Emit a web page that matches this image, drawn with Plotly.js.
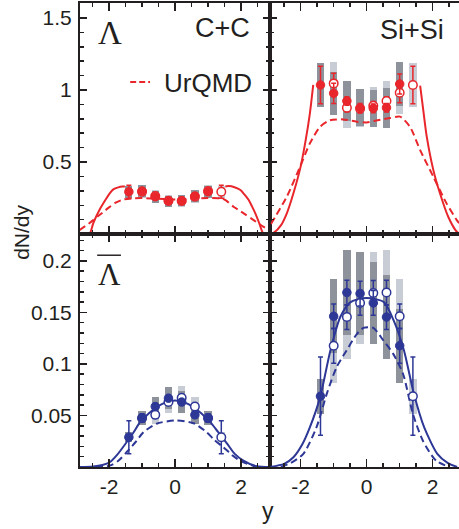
<!DOCTYPE html>
<html><head><meta charset="utf-8">
<script src="https://cdn.plot.ly/plotly-3.0.1.min.js"></script>
<style>html,body{margin:0;padding:0;background:#fff}</style>
</head><body>
<div id="chart" style="width:459px;height:529px"></div>
<script>
// ---------- data ----------
const rapFilled = [-1.4, -1.0, -0.6, -0.2, 0.2, 0.6, 1.0];
const rapOpen   = [-1.0, -0.6, -0.2, 0.2, 0.6, 1.0, 1.4];

// Lambda, C+C
const ccLamFilled = [0.294, 0.299, 0.259, 0.229, 0.231, 0.264, 0.294];
const ccLamOpen   = [0.294, 0.264, 0.231, 0.229, 0.259, 0.299, 0.294];
const ccLamStatF  = [0.045, 0.012, 0.010, 0.010, 0.010, 0.010, 0.012];
const ccLamStatO  = [0.012, 0.010, 0.010, 0.010, 0.010, 0.012, 0.045];
const ccLamSysF   = [0.042, 0.042, 0.040, 0.038, 0.038, 0.040, 0.042];
const ccLamSysO   = [0.042, 0.040, 0.038, 0.038, 0.040, 0.042, 0.042];
const ccLamFitX = [-2.66,-2.58,-2.48,-2.28,-2.08,-1.98,-1.87,-1.72,-1.60,-1.52,null,1.52,1.62,1.80,1.98,2.10,2.23,2.33,2.43,2.55,2.64,2.68];
const ccLamFitY = [0,0.005,0.074,0.172,0.248,0.283,0.310,0.324,0.330,0.331,null,0.331,0.333,0.325,0.306,0.275,0.236,0.192,0.144,0.075,0.016,0];
const ccLamUrqX = [-2.9,-2.6,-2.3,-2.0,-1.8,-1.6,-1.3,-1.0,-0.5,0,0.5,1.0,1.3,1.42,1.55,1.77,2.08,2.38,2.68,2.9];
const ccLamUrqY = [0.027,0.075,0.13,0.185,0.218,0.238,0.248,0.250,0.245,0.240,0.245,0.250,0.249,0.248,0.232,0.190,0.144,0.097,0.050,0.025];

// Lambda, Si+Si
const siLamFilled = [1.035, 0.977, 0.924, 0.877, 0.873, 0.877, 1.042];
const siLamOpen   = [1.046, 0.877, 0.870, 0.890, 0.924, 0.981, 1.035];
const siLamStatF  = [0.13, 0.07, 0.03, 0.03, 0.03, 0.03, 0.07];
const siLamStatO  = [0.07, 0.03, 0.03, 0.03, 0.03, 0.07, 0.13];
const siLamSysF   = [0.15, 0.15, 0.14, 0.13, 0.13, 0.14, 0.15];
const siLamSysO   = [0.15, 0.14, 0.13, 0.13, 0.14, 0.15, 0.15];
const siLamFitX = [-2.93,-2.80,-2.60,-2.42,-2.22,-2.00,-1.85,-1.72,-1.62,null,1.62,1.72,1.82,2.02,2.22,2.47,2.73,2.80];
const siLamFitY = [0,0.012,0.060,0.144,0.283,0.470,0.650,0.840,1.035,null,1.030,0.850,0.676,0.444,0.283,0.120,0.016,0.005];
const siLamUrqX = [-2.9,-2.42,-2.02,-1.72,-1.41,-1.11,-0.71,-0.3,0,0.33,0.7,1.01,1.31,1.62,2.02,2.42,2.73,2.8];
const siLamUrqY = [0.070,0.260,0.467,0.630,0.745,0.790,0.796,0.780,0.775,0.790,0.805,0.815,0.745,0.583,0.398,0.213,0.097,0.075];

// anti-Lambda, C+C
const ccAlaFilled = [0.0289, 0.0474, 0.0587, 0.0668, 0.0630, 0.0506, 0.0474];
const ccAlaOpen   = [0.0474, 0.0506, 0.0630, 0.0672, 0.0587, 0.0474, 0.0289];
const ccAlaStatF  = [0.016, 0.004, 0.003, 0.003, 0.003, 0.003, 0.004];
const ccAlaStatO  = [0.004, 0.003, 0.003, 0.003, 0.003, 0.004, 0.016];
const ccAlaSysF   = [0.005, 0.007, 0.009, 0.011, 0.011, 0.009, 0.007];
const ccAlaSysO   = [0.007, 0.009, 0.011, 0.011, 0.009, 0.007, 0.005];
const ccAlaFitX = [-2.9,-2.48,-2.2,-1.98,-1.75,-1.47,-1.25,-1.06,-0.8,-0.56,-0.3,0,0.3,0.56,0.8,1.07,1.3,1.57,1.8,2.07,2.47,2.9];
const ccAlaFitY = [0,0.0005,0.002,0.0046,0.012,0.024,0.034,0.0435,0.052,0.058,0.0625,0.0646,0.0625,0.058,0.052,0.0435,0.034,0.023,0.013,0.0062,0.0007,0];
const ccAlaUrqX = [-2.4,-1.98,-1.72,-1.47,-1.2,-0.96,-0.56,0,0.56,0.96,1.2,1.47,1.75,1.98,2.38,2.6];
const ccAlaUrqY = [0,0.0013,0.006,0.0143,0.024,0.0337,0.042,0.0451,0.0425,0.0337,0.026,0.019,0.011,0.006,0.001,0];

// anti-Lambda, Si+Si
const siAlaFilled = [0.0687, 0.1462, 0.1693, 0.1683, 0.1592, 0.1455, 0.1177];
const siAlaOpen   = [0.1177, 0.1455, 0.1592, 0.1689, 0.1693, 0.1462, 0.0687];
const siAlaStatF  = [0.038, 0.012, 0.012, 0.012, 0.012, 0.012, 0.017];
const siAlaStatO  = [0.017, 0.012, 0.012, 0.012, 0.012, 0.012, 0.038];
const siAlaSysF   = [0.017, 0.036, 0.041, 0.040, 0.040, 0.041, 0.036];
const siAlaSysO   = [0.036, 0.041, 0.040, 0.040, 0.041, 0.036, 0.017];
const siAlaFitX = [-2.93,-2.5,-2.22,-1.95,-1.72,-1.41,-1.1,-0.8,-0.49,0,0.52,0.82,1.13,1.43,1.74,2.14,2.45,2.74];
const siAlaFitY = [0,0.003,0.0094,0.022,0.0386,0.0678,0.113,0.1455,0.160,0.164,0.160,0.142,0.113,0.071,0.0386,0.0127,0.004,0];
const siAlaUrqX = [-2.6,-2.3,-1.92,-1.52,-1.21,-0.91,-0.61,-0.3,-0.1,0.2,0.5,0.8,1.1,1.4,1.7,2.1,2.5];
const siAlaUrqY = [0,0.004,0.0127,0.0386,0.071,0.097,0.113,0.129,0.135,0.135,0.123,0.110,0.0905,0.0516,0.0257,0.0062,0];

const yTopTicks = [0.5, 1, 1.5];
const yBotTicks = [0.05, 0.1, 0.15, 0.2];
const xTicks = [-2, 0, 2];

// ---------- styles ----------
const RED = '#e8262b', BLUE = '#2d3796';
const DARK = '#8d929b', LIGHT = '#c8ccd5';
const INK = '#231f20';
const BOXW = 0.22;

const traces = [];
function panel(ax, ay, color, filled, open, statF, statO, sysF, sysO, fitX, fitY, urqX, urqY) {
  const box = (xs, vals, s, c) => ({
    type: 'bar', x: xs, y: s.map(v => 2 * v), base: vals.map((v, i) => v - s[i]),
    width: BOXW, marker: {color: c, line: {width: 0}}, xaxis: ax, yaxis: ay,
    showlegend: false, hoverinfo: 'skip'
  });
  traces.push(box(rapOpen, open, sysO, LIGHT));
  traces.push(box(rapFilled, filled, sysF, DARK));
  traces.push({type: 'scatter', mode: 'lines', x: urqX, y: urqY, xaxis: ax, yaxis: ay,
    line: {color: color, width: 2, dash: '7px,4px', shape: 'spline', smoothing: 0.7}, showlegend: false});
  traces.push({type: 'scatter', mode: 'lines', x: fitX, y: fitY, xaxis: ax, yaxis: ay, connectgaps: false,
    line: {color: color, width: 2, shape: 'spline', smoothing: 0.7}, showlegend: false});
  traces.push({type: 'scatter', mode: 'markers', x: rapOpen, y: open, xaxis: ax, yaxis: ay,
    marker: {symbol: 'circle', size: 8.5, color: '#fff', line: {color: color, width: 1.5}},
    error_y: {type: 'data', array: statO, color: color, thickness: 1.5, width: 2.5}, showlegend: false});
  traces.push({type: 'scatter', mode: 'markers', x: rapFilled, y: filled, xaxis: ax, yaxis: ay,
    marker: {symbol: 'circle', size: 8.5, color: color, line: {color: color, width: 1}},
    error_y: {type: 'data', array: statF, color: color, thickness: 1.5, width: 2.5}, showlegend: false});
}
panel('x', 'y', RED, ccLamFilled, ccLamOpen, ccLamStatF, ccLamStatO, ccLamSysF, ccLamSysO, ccLamFitX, ccLamFitY, ccLamUrqX, ccLamUrqY);
panel('x2', 'y2', RED, siLamFilled, siLamOpen, siLamStatF, siLamStatO, siLamSysF, siLamSysO, siLamFitX, siLamFitY, siLamUrqX, siLamUrqY);
panel('x3', 'y3', BLUE, ccAlaFilled, ccAlaOpen, ccAlaStatF, ccAlaStatO, ccAlaSysF, ccAlaSysO, ccAlaFitX, ccAlaFitY, ccAlaUrqX, ccAlaUrqY);
panel('x4', 'y4', BLUE, siAlaFilled, siAlaOpen, siAlaStatF, siAlaStatO, siAlaSysF, siAlaSysO, siAlaFitX, siAlaFitY, siAlaUrqX, siAlaUrqY);

const FONT = 'Liberation Sans, Arial, Helvetica, sans-serif';
const SPLIT_X = 0.5026, SPLIT_Y = 0.502;
function xax(domain, range, anchor, labels) {
  return {domain: domain, range: range, anchor: anchor, showline: true, linewidth: 2, linecolor: INK,
    mirror: 'ticks', ticks: 'inside', ticklen: 8, tickwidth: 1.5, tickcolor: INK,
    tickmode: 'array', tickvals: xTicks, ticktext: xTicks.map(String), showticklabels: labels,
    minor: {tickmode: 'linear', tick0: 0, dtick: 0.5, ticklen: 4, tickwidth: 1.5, tickcolor: INK, ticks: 'inside'},
    showgrid: false, zeroline: false, fixedrange: true,
    tickfont: {family: FONT, size: 21, color: INK}};
}
function yax(domain, range, anchor, vals, labels, mirror) {
  return {domain: domain, range: range, anchor: anchor, showline: true, linewidth: 2, linecolor: INK,
    mirror: mirror, ticks: 'inside', ticklen: 7, tickwidth: 1.5, tickcolor: INK,
    tickmode: 'array', tickvals: vals, ticktext: vals.map(String), showticklabels: labels,
    minor: {tickmode: 'linear', tick0: 0, dtick: vals[0] / 5, ticklen: 4, tickwidth: 1.5, tickcolor: INK, ticks: 'inside'},
    showgrid: false, zeroline: false, fixedrange: true, ticklabelstandoff: 2,
    tickfont: {family: FONT, size: 21, color: INK}};
}
const xL = [-2.88, 2.89], xR = [-2.915, 2.797];
const layout = {
  width: 459, height: 529, margin: {l: 80, r: 0, t: 3, b: 62, pad: 0},
  paper_bgcolor: '#fff', plot_bgcolor: 'rgba(0,0,0,0)', showlegend: false,
  barmode: 'overlay', bargap: 0,
  xaxis: xax([0, SPLIT_X], xL, 'y', false),
  xaxis2: xax([SPLIT_X, 1], xR, 'y2', false),
  xaxis3: xax([0, SPLIT_X], xL, 'y3', true),
  xaxis4: xax([SPLIT_X, 1], xR, 'y4', true),
  yaxis: yax([SPLIT_Y, 1], [0, 1.604], 'x', yTopTicks, true, 'ticks'),
  yaxis2: yax([SPLIT_Y, 1], [0, 1.604], 'x2', yTopTicks, false, false),
  yaxis3: yax([0, SPLIT_Y], [0, 0.226], 'x3', yBotTicks, true, 'ticks'),
  yaxis4: yax([0, SPLIT_Y], [0, 0.226], 'x4', yBotTicks, false, false),
  shapes: [
    {type: 'line', xref: 'x', yref: 'y', x0: -1.36, x1: -0.76, y0: 1.056, y1: 1.056,
      line: {color: RED, width: 2, dash: '6px,3px'}},
    {type: 'line', xref: 'x3', yref: 'y3', x0: -2.36, x1: -1.64, y0: 0.2055, y1: 0.2055,
      line: {color: INK, width: 1.5}}
  ],
  annotations: [
    {xref: 'x', yref: 'y', x: -1.97, y: 1.396, xanchor: 'center', yanchor: 'middle', text: 'Λ', showarrow: false,
      font: {family: 'Liberation Serif, Times New Roman, serif', size: 33, color: INK}},
    {xref: 'x', yref: 'y', x: 2.32, y: 1.43, xanchor: 'right', yanchor: 'middle', text: 'C+C', showarrow: false,
      font: {family: FONT, size: 27, color: INK}},
    {xref: 'x2', yref: 'y2', x: 2.39, y: 1.417, xanchor: 'right', yanchor: 'middle', text: 'Si+Si', showarrow: false,
      font: {family: FONT, size: 27, color: INK}},
    {xref: 'x', yref: 'y', x: -0.40, y: 1.049, xanchor: 'left', yanchor: 'middle', text: 'UrQMD', showarrow: false,
      font: {family: FONT, size: 26, color: INK}},
    {xref: 'x3', yref: 'y3', x: -2.0, y: 0.187, xanchor: 'center', yanchor: 'middle', text: 'Λ', showarrow: false,
      font: {family: 'Liberation Serif, Times New Roman, serif', size: 31, color: INK}},
    {xref: 'paper', yref: 'paper', x: -0.154, y: 0.506, xanchor: 'center', yanchor: 'middle', text: 'dN/dy', textangle: -90, showarrow: false,
      font: {family: FONT, size: 21, color: INK}},
    {xref: 'paper', yref: 'paper', x: 0.4967, y: -0.094, xanchor: 'center', yanchor: 'middle', text: 'y', showarrow: false,
      font: {family: FONT, size: 23, color: INK}}
  ]
};
Plotly.newPlot('chart', traces, layout, {staticPlot: true, displayModeBar: false});
</script>
</body></html>
